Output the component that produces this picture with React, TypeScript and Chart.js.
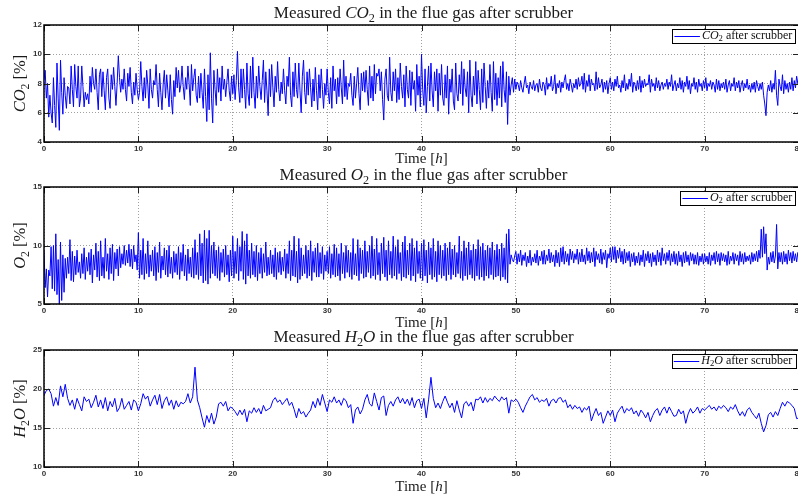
import React, { useEffect, useRef } from "react";
import { Chart, registerables } from "chart.js";

Chart.register(...registerables);

// sampling interval of the recorded series, hours per sample
const DT_GAS = 0.125;
const DT_H2O = 0.25;

// Measured CO2 after scrubber [%], one row per hour
const co2Values: number[] = [
  8.3, 8.9, 7.0, 8.0, 5.7, 7.2, 6.0, 5.3,
  8.4, 6.5, 5.0, 9.4, 7.0, 4.8, 9.6, 7.4,
  5.9, 8.4, 7.2, 6.3, 7.8, 7.7, 6.6, 9.2,
  7.6, 6.4, 9.3, 7.8, 7.0, 9.2, 6.4, 7.0,
  9.2, 7.8, 6.4, 7.4, 6.9, 7.3, 6.6, 8.5,
  7.4, 9.1, 8.0, 7.6, 9.0, 7.4, 6.2, 8.6,
  9.0, 7.1, 8.8, 7.5, 6.2, 8.4, 9.0, 7.0,
  6.3, 8.6, 7.6, 9.1, 7.8, 6.5, 8.0, 9.9,
  8.4, 7.4, 8.3, 7.6, 9.0, 7.6, 6.8, 8.7,
  7.8, 9.1, 7.4, 6.6, 8.1, 7.2, 8.7, 7.6,
  6.9, 7.4, 9.5, 7.8, 6.8, 8.4, 7.0, 8.9,
  7.9, 6.3, 9.0, 7.6, 7.0, 8.2, 7.9, 9.3,
  7.6, 6.4, 8.7, 7.4, 6.2, 7.9, 8.9, 7.0,
  8.6, 7.5, 6.4, 8.6, 6.9, 5.9, 8.2, 7.1,
  9.1, 7.7, 8.9, 7.4, 7.9, 9.2, 7.8, 6.9,
  8.4, 7.6, 9.2, 8.0, 6.5, 9.3, 7.5, 8.4,
  9.0, 7.2, 6.7, 8.5, 7.0, 8.7, 7.4, 6.3,
  9.0, 7.1, 5.4, 8.6, 6.2, 10.1, 7.0, 5.3,
  8.9, 7.6, 6.5, 9.0, 7.4, 8.4, 6.8, 9.2,
  7.6, 8.3, 7.1, 8.1, 9.0, 7.5, 6.8, 8.5,
  7.3, 8.6, 6.9, 8.2, 10.2, 7.7, 6.7, 9.0,
  7.0, 9.0, 7.6, 6.3, 9.4, 7.3, 6.5, 9.2,
  7.0, 9.8, 7.4, 6.3, 8.5, 7.0, 9.2, 7.8,
  6.9, 8.2, 9.6, 6.7, 8.8, 7.5, 5.8, 9.0,
  7.1, 9.3, 7.7, 6.4, 8.5, 7.4, 9.5, 7.6,
  6.8, 8.1, 7.3, 9.0, 7.5, 6.6, 8.5, 7.8,
  9.8, 7.2, 6.4, 8.8, 7.1, 9.4, 7.6, 7.0,
  9.4, 7.5, 6.0, 8.5, 9.6, 7.4, 6.6, 8.8,
  7.2, 9.0, 7.7, 6.4, 8.3, 6.8, 9.1, 7.5,
  6.2, 8.6, 7.0, 9.0, 7.6, 6.3, 8.0, 7.2,
  9.0, 7.4, 6.6, 8.4, 6.3, 9.2, 7.5, 8.3,
  6.6, 8.4, 7.1, 9.0, 7.7, 6.6, 9.6, 7.1,
  8.5, 6.9, 8.0, 7.8, 8.7, 7.2, 6.5, 8.5,
  7.0, 8.0, 9.1, 7.3, 6.2, 8.7, 7.5, 8.8,
  7.4, 8.9, 7.6, 6.5, 9.2, 7.0, 8.5, 6.8,
  9.3, 7.3, 8.7, 8.5, 9.0, 7.5, 8.8, 6.9,
  5.5, 8.3, 9.0, 7.2, 6.8, 9.8, 7.4, 6.8,
  8.8, 7.5, 9.0, 6.7, 8.4, 6.9, 9.4, 7.8,
  7.0, 8.6, 6.4, 9.2, 7.6, 7.0, 8.9, 6.5,
  8.8, 7.6, 8.2, 6.1, 9.3, 7.2, 8.5, 6.4,
  10.0, 7.6, 6.5, 9.0, 6.0, 7.8, 9.2, 6.8,
  9.4, 7.5, 6.4, 8.8, 7.5, 9.0, 6.1, 8.7,
  7.2, 9.3, 7.0, 6.5, 8.6, 7.0, 9.2, 5.9,
  8.3, 7.4, 9.0, 6.8, 6.2, 9.4, 7.3, 6.8,
  8.6, 7.3, 9.5, 6.5, 9.0, 7.7, 7.1, 8.8,
  6.0, 9.6, 7.2, 6.4, 8.5, 7.2, 9.5, 6.6,
  8.9, 7.6, 6.2, 9.0, 6.7, 9.4, 7.8, 6.3,
  8.2, 7.0, 9.3, 7.4, 6.1, 9.5, 6.9, 8.7,
  6.5, 8.4, 7.0, 9.2, 6.4, 9.5, 7.6, 6.7,
  8.8, 5.2, 8.5, 7.2, 7.9, 8.4, 7.4, 8.3,
  7.6, 8.1, 7.9, 7.5, 8.2, 7.7, 7.4, 8.0,
  8.5, 7.7, 7.9, 7.3, 8.1, 7.8, 7.6, 8.2,
  7.5, 7.9, 8.0, 7.4, 8.3, 7.7, 7.5, 8.1,
  7.9, 7.2, 8.4, 7.6, 8.0, 7.8, 8.5, 7.5,
  7.8, 8.6, 7.3, 8.0, 7.7, 8.2, 7.4, 8.1,
  7.7, 8.2, 8.6, 7.6, 8.0, 7.5, 8.3, 7.9,
  7.4, 8.0, 7.7, 8.3, 7.6, 8.4, 7.8, 8.0,
  8.5, 7.6, 8.7, 7.4, 8.2, 7.8, 8.6, 7.5,
  8.3, 7.9, 8.0, 7.5, 8.8, 7.6, 8.4, 7.7,
  7.9, 8.3, 7.4, 8.1, 7.6, 8.2, 7.3, 8.0,
  8.4, 7.6, 8.1, 7.5, 8.3, 7.8, 8.5, 7.7,
  7.9, 7.4, 8.2, 7.7, 8.6, 7.5, 8.0, 7.6,
  8.3, 7.8, 8.7, 7.4, 8.1, 7.9, 7.5, 8.2,
  7.6, 8.5, 7.4, 8.2, 7.7, 8.3, 7.8, 8.0,
  7.9, 8.6, 7.4, 8.3, 7.8, 8.0, 7.5, 8.4,
  7.7, 8.2, 7.5, 7.9, 8.1, 7.6, 8.0, 7.8,
  8.3, 7.6, 8.1, 7.8, 8.6, 7.5, 7.9, 8.2,
  7.5, 8.0, 7.7, 8.4, 7.6, 8.2, 7.4, 8.1,
  7.8, 8.5, 7.6, 8.2, 7.3, 8.0, 7.8, 8.4,
  7.6, 8.1, 7.4, 8.3, 7.8, 8.0, 7.5, 8.2,
  7.7, 8.4, 7.5, 8.0, 7.8, 8.2, 7.6, 8.1,
  7.9, 7.4, 8.3, 7.6, 8.2, 7.5, 8.0, 7.7,
  8.1, 7.6, 8.3, 7.4, 7.9, 8.2, 7.5, 8.0,
  7.8, 8.4, 7.5, 8.1, 7.7, 8.2, 7.4, 7.9,
  8.2, 7.5, 8.0, 7.7, 8.3, 7.6, 7.9, 7.4,
  8.0, 7.6, 8.1, 7.4, 8.2, 7.8, 7.5, 8.0,
  7.6, 8.1, 7.2, 6.6, 5.8, 7.4, 7.9, 7.5,
  8.2, 7.4, 8.0, 7.6, 8.9, 7.2, 6.5, 8.3,
  7.8, 7.5, 8.6, 7.3, 8.2, 7.6, 8.0, 7.4,
  8.1, 7.6, 8.4, 7.5, 8.2, 7.7, 8.5, 8.0,
  8.3,
];

// Measured O2 after scrubber [%], one row per hour
const o2Values: number[] = [
  9.6, 6.4, 8.0, 5.6, 7.9, 7.4, 9.9, 6.3,
  10.0, 6.1, 11.0, 5.8, 8.8, 5.0, 10.3, 5.3,
  9.2, 6.0, 8.9, 7.2, 9.0, 7.6, 10.5, 7.0,
  9.5, 6.9, 9.1, 7.5, 9.6, 7.7, 8.6, 7.2,
  9.3, 7.6, 9.8, 7.1, 9.0, 7.8, 9.4, 7.5,
  9.7, 6.8, 9.2, 7.9, 10.2, 7.3, 9.5, 7.0,
  10.4, 7.4, 9.0, 7.2, 10.6, 7.8, 9.3, 7.1,
  9.8, 7.6, 10.1, 7.0, 9.4, 8.0, 9.7, 7.4,
  9.9, 8.1, 9.3, 8.4, 10.0, 8.3, 9.6, 8.5,
  10.1, 8.2, 9.7, 8.0, 10.0, 8.6, 9.2, 7.9,
  11.1, 7.2, 9.6, 7.5, 10.6, 7.1, 9.3, 7.6,
  10.4, 7.3, 9.2, 7.8, 9.6, 7.4, 9.9, 7.0,
  9.4, 7.7, 10.3, 7.2, 9.1, 7.9, 9.8, 7.5,
  9.6, 7.3, 10.0, 7.6, 9.0, 7.2, 9.5, 7.7,
  9.3, 7.5, 9.9, 7.1, 9.4, 7.8, 10.1, 7.4,
  9.2, 7.0, 9.7, 7.6, 9.0, 7.3, 9.8, 7.2,
  10.5, 7.5, 9.4, 7.1, 11.0, 7.4, 10.2, 6.8,
  11.3, 7.0, 10.6, 6.7, 11.3, 7.2, 10.0, 7.6,
  10.3, 7.4, 9.6, 7.2, 9.9, 7.0, 9.4, 7.7,
  9.7, 7.3, 10.0, 7.5, 9.2, 6.9, 9.6, 7.4,
  10.8, 7.2, 9.5, 7.6, 10.6, 7.0, 9.9, 7.8,
  11.2, 7.1, 10.4, 6.7, 11.0, 7.4, 9.6, 7.2,
  10.2, 7.5, 9.5, 7.3, 10.0, 7.0, 9.4, 7.6,
  9.8, 7.2, 9.3, 7.7, 10.3, 7.4, 9.0, 7.5,
  9.6, 7.6, 9.2, 7.3, 9.8, 7.1, 9.4, 7.7,
  9.5, 7.5, 9.0, 7.8, 9.7, 7.2, 9.3, 7.6,
  10.4, 7.0, 9.6, 7.4, 10.8, 7.3, 9.5, 6.8,
  10.6, 7.1, 9.8, 7.4, 9.2, 7.6, 10.0, 7.2,
  9.6, 7.4, 10.4, 7.0, 9.5, 7.7, 9.8, 7.3,
  10.2, 7.3, 9.4, 7.6, 9.9, 7.1, 9.2, 7.8,
  9.5, 7.6, 9.9, 7.2, 9.3, 7.5, 10.1, 7.3,
  9.8, 7.4, 9.3, 7.0, 10.2, 7.6, 9.4, 7.2,
  10.0, 7.7, 9.6, 7.3, 9.4, 7.1, 10.6, 7.5,
  9.3, 7.4, 10.5, 7.0, 9.8, 7.6, 9.6, 7.2,
  10.4, 7.3, 9.5, 7.7, 10.0, 7.2, 10.8, 7.4,
  9.7, 7.1, 10.6, 7.5, 9.4, 7.0, 10.2, 7.6,
  10.7, 7.3, 9.6, 7.0, 10.4, 7.5, 9.5, 7.2,
  10.8, 7.4, 9.9, 7.1, 10.5, 7.6, 9.4, 7.0,
  10.3, 7.3, 10.8, 7.2, 9.6, 7.5, 10.2, 7.0,
  10.6, 7.4, 9.8, 6.9, 10.4, 7.6, 9.5, 7.2,
  10.2, 7.0, 10.5, 7.4, 9.6, 6.8, 10.3, 7.5,
  9.8, 7.1, 10.6, 7.3, 9.5, 6.9, 10.4, 7.5,
  10.0, 7.2, 9.6, 7.4, 10.2, 7.0, 9.8, 7.5,
  10.3, 7.1, 9.7, 7.5, 10.0, 7.3, 9.4, 7.6,
  10.8, 7.2, 9.5, 7.0, 10.4, 7.4, 9.8, 7.1,
  10.3, 7.5, 9.6, 7.2, 10.1, 7.0, 9.7, 7.4,
  10.5, 7.1, 9.9, 7.3, 10.2, 7.0, 9.6, 7.4,
  10.0, 7.2, 9.8, 7.5, 10.3, 7.1, 9.6, 7.3,
  10.1, 7.4, 9.7, 7.0, 10.2, 7.3, 9.8, 7.1,
  11.0, 6.8, 11.4, 8.4, 9.2, 8.8, 8.6, 9.1,
  9.5, 8.4, 9.3, 8.6, 9.6, 8.3, 9.2, 8.7,
  9.4, 8.2, 9.1, 8.5, 9.6, 8.3, 9.0, 8.6,
  9.3, 8.5, 9.6, 8.3, 9.1, 8.7, 9.5, 8.4,
  9.6, 8.4, 9.2, 8.7, 9.7, 8.5, 9.4, 8.6,
  9.2, 8.2, 9.6, 8.5, 9.4, 8.2, 9.8, 8.6,
  9.9, 8.4, 9.5, 8.6, 9.3, 8.3, 9.7, 8.8,
  9.5, 8.5, 9.3, 8.8, 9.7, 8.4, 9.4, 8.6,
  9.7, 8.6, 9.2, 8.4, 9.8, 8.7, 9.5, 8.5,
  9.4, 8.6, 9.8, 8.2, 9.5, 8.8, 9.3, 8.5,
  9.7, 8.4, 9.4, 8.8, 9.6, 8.1, 9.3, 8.9,
  9.8, 8.6, 9.9, 8.8, 9.9, 8.5, 9.6, 8.9,
  9.8, 8.6, 9.5, 8.4, 9.7, 8.5, 9.4, 8.7,
  9.5, 8.2, 9.3, 8.6, 9.4, 8.3, 9.1, 8.5,
  9.4, 8.3, 9.2, 8.6, 9.6, 8.2, 9.3, 8.7,
  9.5, 8.5, 9.3, 8.2, 9.4, 8.6, 9.2, 8.3,
  9.6, 8.6, 9.4, 8.3, 9.8, 8.7, 9.3, 8.4,
  9.4, 8.7, 9.6, 8.3, 9.3, 8.6, 9.5, 8.4,
  9.3, 8.3, 9.5, 8.6, 9.2, 8.2, 9.4, 8.5,
  9.5, 8.6, 9.2, 8.3, 9.4, 8.7, 9.3, 8.4,
  9.2, 8.4, 9.4, 8.3, 9.1, 8.6, 9.3, 8.4,
  9.3, 8.6, 9.1, 8.4, 9.4, 8.3, 9.2, 8.7,
  9.4, 8.4, 9.5, 8.6, 9.3, 8.3, 9.4, 8.7,
  9.3, 8.6, 9.2, 8.3, 9.5, 8.4, 9.1, 8.7,
  9.4, 8.4, 9.3, 8.7, 9.2, 8.3, 9.5, 8.6,
  9.3, 8.4, 9.4, 8.6, 9.1, 8.7, 9.2, 8.4,
  9.4, 8.6, 9.3, 8.7, 9.5, 8.6, 9.6, 8.9,
  11.4, 9.0, 11.6, 9.3, 11.0, 7.9, 9.0, 8.4,
  9.4, 8.6, 9.5, 8.5, 9.1, 11.8, 8.0, 9.4,
  8.6, 9.4, 8.4, 9.5, 8.6, 9.3, 8.4, 9.6,
  8.7, 9.4, 8.5, 9.5, 8.7, 9.3, 8.6, 9.4,
  9.0,
];

// Measured H2O after scrubber [%], one row per hour
const h2oValues: number[] = [
  19.2, 19.8, 20.0, 19.4,
  17.8, 18.9, 17.9, 20.4,
  19.0, 20.6, 18.8, 17.9,
  18.6, 17.4, 18.8, 18.0,
  17.2, 19.0, 18.4, 18.7,
  17.6, 18.3, 19.2, 17.7,
  18.6, 17.5, 18.9, 17.2,
  18.4, 17.7, 18.8, 17.1,
  17.6, 18.8, 17.4, 17.9,
  18.4, 17.3, 18.6, 18.3,
  17.2, 18.1, 19.4, 18.7,
  19.1, 17.8, 18.6, 19.2,
  18.0, 19.3, 17.5, 18.5,
  19.0, 17.9, 18.6, 17.4,
  18.5, 17.7, 18.3, 18.1,
  18.4, 19.4, 18.2, 19.0,
  22.8, 18.6, 17.6, 16.3,
  15.1, 16.6, 15.7, 16.9,
  15.5, 16.4, 18.1, 18.3,
  17.8, 18.4, 17.2, 17.7,
  17.5, 17.1, 16.6, 17.3,
  16.7, 17.4, 15.8, 17.2,
  16.9, 17.6, 17.0, 17.5,
  16.8, 17.9, 17.2, 17.4,
  17.6, 18.5, 18.9, 18.3,
  18.6, 18.0, 18.4, 18.8,
  17.9, 18.3, 17.4, 16.3,
  17.5, 16.8, 17.1, 16.4,
  16.9, 17.3, 18.4, 17.6,
  18.8, 17.9, 19.3, 18.2,
  17.1, 18.6, 18.3, 19.0,
  18.2, 18.6, 17.9, 18.8,
  18.5, 17.6, 18.0, 15.6,
  17.3, 17.7, 16.8, 17.4,
  18.6, 19.3, 18.1, 17.8,
  19.5, 18.4, 17.3, 18.9,
  19.1, 16.6, 17.9, 18.4,
  17.8, 18.6, 19.0, 18.2,
  18.8, 18.1, 18.7, 17.9,
  18.9, 17.6, 18.5, 18.7,
  17.5, 18.8, 16.3, 18.6,
  21.5, 18.8, 17.6, 18.2,
  17.5, 18.4, 19.1, 18.3,
  17.6, 18.2, 17.0, 18.5,
  17.3, 16.3, 18.1, 18.4,
  17.8, 18.3, 17.2, 18.7,
  18.6, 19.0, 18.2, 18.9,
  18.3, 18.8, 18.5, 19.1,
  18.7, 18.4, 19.0, 18.6,
  18.9, 16.9, 18.6, 18.4,
  18.7, 18.3, 17.6, 17.0,
  17.8, 18.4, 19.0, 19.3,
  18.6, 18.9, 18.3, 18.6,
  18.4, 18.8, 17.8, 18.5,
  18.7, 18.2, 18.8, 18.9,
  18.3, 18.6, 17.6, 18.0,
  17.4, 17.9, 17.5, 17.7,
  17.0, 17.6, 17.3, 17.8,
  15.9, 16.8, 17.5, 16.6,
  17.0, 15.6, 16.4, 17.2,
  16.6, 17.3, 15.8, 16.9,
  17.4, 17.8, 16.9, 17.5,
  17.2, 17.6, 16.8, 17.2,
  16.5, 17.3, 16.9, 16.3,
  17.0, 15.8, 16.6, 17.2,
  17.5, 16.6, 17.3, 17.7,
  16.9, 17.7, 17.1, 16.5,
  16.6, 17.4, 16.8, 17.2,
  15.6, 16.8, 17.5, 16.9,
  17.2, 17.7, 16.9, 17.5,
  17.3, 17.6, 17.9, 17.4,
  17.7, 17.2, 17.8, 17.5,
  17.9, 17.6, 17.1, 17.7,
  17.4, 18.0, 17.2, 16.6,
  17.1, 16.5, 17.3, 17.6,
  17.0, 16.6, 16.2, 16.9,
  15.6, 14.5, 15.3, 16.7,
  17.0, 16.4, 17.1, 16.6,
  17.5, 18.3, 17.8, 18.4,
  18.2, 17.9, 17.5, 16.2,
  16.3,
];

const X_MIN = 0;
const X_MAX = 80;
const X_STEP = 10;

type Seg = [string, "n" | "i" | "s"];

const SERIF = '"Liberation Serif", "DejaVu Serif", serif';
const TICK_FONT = { family: '"Liberation Sans", Arial, sans-serif', size: 8, weight: "bold" as const };
const TICK_COLOR = "#333333";
const LINE_BLUE = "#0000ff";

const CANVAS_W = 800;
const CANVAS_H = 170;
const PLOT_TOP = 25;
const PLOT_BOTTOM = 142;

interface Panel {
  values: number[];
  dt: number;
  yMin: number;
  yMax: number;
  yStep: number;
  title: Seg[];
  yLabel: Seg[];
  legend: Seg[];
  top: number;
  titleOff: number;
  xLabelOff: number;
}

const xLabel: Seg[] = [["Time ", "n"], ["[", "n"], ["h", "i"], ["]", "n"]];

const panels: Panel[] = [
  {
    values: co2Values, dt: DT_GAS, yMin: 4, yMax: 12, yStep: 2,
    title: [["Measured ", "n"], ["CO", "i"], ["2", "s"], [" in the flue gas after scrubber", "n"]],
    yLabel: [["CO", "i"], ["2", "s"], [" [%]", "n"]],
    legend: [["CO", "i"], ["2", "s"], [" after scrubber", "n"]],
    top: 0, titleOff: 6.7, xLabelOff: 21,
  },
  {
    values: o2Values, dt: DT_GAS, yMin: 5, yMax: 15, yStep: 5,
    title: [["Measured ", "n"], ["O", "i"], ["2", "s"], [" in the flue gas after scrubber", "n"]],
    yLabel: [["O", "i"], ["2", "s"], [" [%]", "n"]],
    legend: [["O", "i"], ["2", "s"], [" after scrubber", "n"]],
    top: 162, titleOff: 7, xLabelOff: 22.7,
  },
  {
    values: h2oValues, dt: DT_H2O, yMin: 10, yMax: 25, yStep: 5,
    title: [["Measured ", "n"], ["H", "i"], ["2", "s"], ["O", "i"], [" in the flue gas after scrubber", "n"]],
    yLabel: [["H", "i"], ["2", "s"], ["O", "i"], [" [%]", "n"]],
    legend: [["H", "i"], ["2", "s"], ["O", "i"], [" after scrubber", "n"]],
    top: 325, titleOff: 7.7, xLabelOff: 23.7,
  },
];

function segFont(style: string, size: number) {
  if (style === "i") return `italic ${size}px ${SERIF}`;
  if (style === "s") return `${(size * 0.72).toFixed(2)}px ${SERIF}`;
  return `${size}px ${SERIF}`;
}

function measureRich(ctx: CanvasRenderingContext2D, segs: Seg[], size: number) {
  return segs.map(([t, s]) => {
    ctx.font = segFont(s, size);
    return ctx.measureText(t).width;
  });
}

function drawRich(
  ctx: CanvasRenderingContext2D,
  segs: Seg[],
  x: number,
  baseline: number,
  size: number,
  align: "center" | "left",
  subShift = 0.22
) {
  ctx.textBaseline = "alphabetic";
  ctx.textAlign = "left";
  const widths = measureRich(ctx, segs, size);
  const total = widths.reduce((a, b) => a + b, 0);
  let cx = align === "center" ? x - total / 2 : x;
  segs.forEach(([t, s], i) => {
    ctx.font = segFont(s, size);
    ctx.fillText(t, cx, s === "s" ? baseline + size * subShift : baseline);
    cx += widths[i];
  });
  return total;
}

function makeDecor(p: Panel) {
  return {
    id: "decor",
    afterDatasetsDraw(chart: any) {
      const { ctx, chartArea: a, scales } = chart;
      const xs = scales.x;
      const ys = scales.y;
      ctx.save();
      // inward tick marks
      ctx.strokeStyle = "#222222";
      ctx.lineWidth = 1;
      const TL = 6;
      ctx.beginPath();
      xs.ticks.forEach((t: any) => {
        const px = Math.round(xs.getPixelForValue(t.value)) + 0.5;
        ctx.moveTo(px, a.bottom);
        ctx.lineTo(px, a.bottom - TL);
        ctx.moveTo(px, a.top);
        ctx.lineTo(px, a.top + TL);
      });
      ys.ticks.forEach((t: any) => {
        const py = Math.round(ys.getPixelForValue(t.value)) + 0.5;
        ctx.moveTo(a.left, py);
        ctx.lineTo(a.left + TL, py);
        ctx.moveTo(a.right, py);
        ctx.lineTo(a.right - TL, py);
      });
      ctx.stroke();
      // axes box
      ctx.strokeStyle = "#000000";
      ctx.lineWidth = 1.5;
      ctx.strokeRect(a.left, a.top, a.right - a.left, a.bottom - a.top);

      // legend
      const LS = 12;
      const tw = measureRich(ctx, p.legend, LS).reduce((s: number, w: number) => s + w, 0);
      const bw = 2 + 25.5 + 2 + tw + 3.5;
      const bh = 14;
      const bx = a.right - 3.3 - bw;
      const by = a.top + 4;
      ctx.fillStyle = "#ffffff";
      ctx.fillRect(bx, by, bw, bh);
      ctx.strokeStyle = "#000000";
      ctx.lineWidth = 1;
      ctx.strokeRect(Math.round(bx) + 0.5, Math.round(by) + 0.5, Math.round(bw), Math.round(bh));
      ctx.strokeStyle = LINE_BLUE;
      ctx.beginPath();
      const ly = Math.round(by + bh / 2) + 0.5;
      ctx.moveTo(bx + 2, ly);
      ctx.lineTo(bx + 27.5, ly);
      ctx.stroke();
      ctx.fillStyle = "#111111";
      drawRich(ctx, p.legend, bx + 29.5, by + 9.6, LS, "left", 0.16);
      ctx.restore();
    },
    afterDraw(chart: any) {
      const { ctx, chartArea: a } = chart;
      ctx.save();
      ctx.fillStyle = "#1a1a1a";
      const cx = (a.left + a.right) / 2;
      drawRich(ctx, p.title, cx + 2, a.top - p.titleOff, 17, "center");
      drawRich(ctx, xLabel, cx, a.bottom + p.xLabelOff, 15, "center");
      ctx.translate(25, (a.top + a.bottom) / 2);
      ctx.rotate(-Math.PI / 2);
      drawRich(ctx, p.yLabel, 0, 0, 16.5, "center");
      ctx.restore();
    },
  };
}

function PanelChart({ p }: { p: Panel }) {
  const ref = useRef<HTMLCanvasElement | null>(null);
  useEffect(() => {
    if (!ref.current) return;
    const data = p.values.map((v, i) => ({ x: i * p.dt, y: v }));
    const gridOpts = { drawTicks: false, color: "#a0a0a0", lineWidth: 1 };
    const borderOpts = { display: false, dash: [1, 2] };
    const chart = new Chart(ref.current, {
      type: "line",
      data: {
        datasets: [
          {
            data,
            borderColor: LINE_BLUE,
            borderWidth: 1,
            pointRadius: 0,
            tension: 0,
            fill: false,
          },
        ],
      },
      options: {
        responsive: false,
        animation: false,
        devicePixelRatio: 1,
        events: [],
        layout: { padding: { top: PLOT_TOP, left: 0, right: 1, bottom: 0 } },
        plugins: {
          legend: { display: false },
          title: { display: false },
          tooltip: { enabled: false },
        },
        scales: {
          x: {
            type: "linear",
            min: X_MIN,
            max: X_MAX,
            afterFit: (s: any) => {
              s.height = CANVAS_H - PLOT_BOTTOM;
              s.paddingLeft = 0;
              s.paddingRight = 0;
            },
            ticks: { stepSize: X_STEP, autoSkip: false, maxRotation: 0, padding: 2, font: TICK_FONT, color: TICK_COLOR },
            grid: gridOpts,
            border: borderOpts,
          },
          y: {
            type: "linear",
            min: p.yMin,
            max: p.yMax,
            afterFit: (s: any) => {
              s.width = 44;
              s.paddingTop = 0;
              s.paddingBottom = 0;
            },
            ticks: { stepSize: p.yStep, padding: 2, font: TICK_FONT, color: TICK_COLOR },
            grid: gridOpts,
            border: borderOpts,
          },
        },
      } as any,
      plugins: [makeDecor(p)],
    });
    return () => chart.destroy();
  }, [p]);
  return (
    <canvas
      ref={ref}
      width={CANVAS_W}
      height={CANVAS_H}
      style={{ position: "absolute", left: 0, top: p.top, width: CANVAS_W, height: CANVAS_H, display: "block" }}
    />
  );
}

export default function App() {
  return (
    <div
      style={{
        position: "fixed",
        left: 0,
        top: 0,
        width: 798,
        height: 498,
        overflow: "hidden",
        background: "#ffffff",
      }}
    >
      {panels.map((p, i) => (
        <PanelChart key={i} p={p} />
      ))}
    </div>
  );
}
